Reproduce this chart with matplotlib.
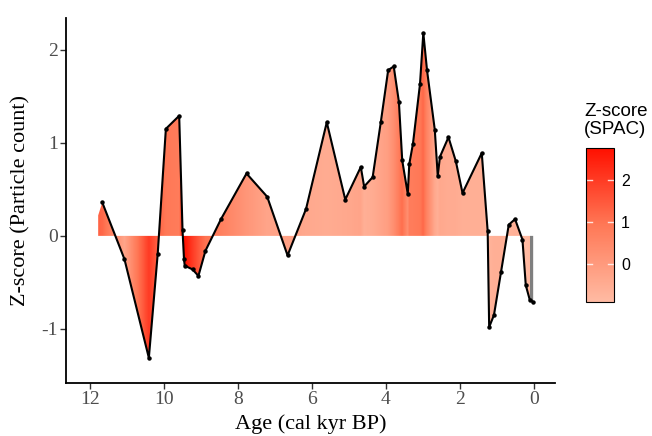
import numpy as np
import matplotlib
matplotlib.use("Agg")
import matplotlib.pyplot as plt
from matplotlib.colors import LinearSegmentedColormap, Normalize

# ---- data ----
age = [11.67, 11.07, 10.41, 10.17, 9.95, 9.59, 9.50, 9.46, 9.44, 9.23, 9.07, 8.88,
       8.46, 7.77, 7.21, 6.66, 6.16, 5.60, 5.10, 4.68, 4.59, 4.36, 4.14, 3.94,
       3.79, 3.65, 3.56, 3.41, 3.37, 3.27, 3.08, 2.99, 2.89, 2.68, 2.60, 2.54,
       2.31, 2.11, 1.93, 1.41, 1.25, 1.21, 1.08, 0.89, 0.68, 0.51, 0.31, 0.22,
       0.11, 0.02]
zscore = [0.36, -0.25, -1.31, -0.19, 1.15, 1.29, 0.065, -0.25, -0.32, -0.36, -0.43, -0.16,
          0.18, 0.67, 0.42, -0.21, 0.29, 1.22, 0.39, 0.74, 0.53, 0.63, 1.22, 1.78,
          1.82, 1.44, 0.81, 0.45, 0.77, 0.99, 1.63, 2.18, 1.78, 1.14, 0.645, 0.85,
          1.06, 0.80, 0.46, 0.89, 0.05, -0.98, -0.85, -0.39, 0.12, 0.18, -0.04, -0.53,
          -0.69, -0.71]
spac = [1.2, -0.3, 2.0, 1.3, 0.9, 0.8, 2.6, 2.76, 2.7, 2.0, 1.5, 1.0,
        0.7, 0.1, -0.3, -0.2, -0.4, -0.5, -0.4, -0.3, -0.6, -0.5, -0.3, -0.1,
        0.3, 0.8, 1.1, 0.3, 0.8, 0.8, 0.9, 1.2, 0.6, -0.4, -0.6, -0.4,
        -0.5, -0.5, -0.6, -0.6, -0.7, -0.7, -0.6, -0.6, -0.7, -0.6, -0.7, -0.92,
        -0.8, np.nan]
# start of the shaded area (before first line point)
area_start_age = 11.78
area_start_z = 0.22
area_start_spac = 1.3

xticks = [12, 10, 8, 6, 4, 2, 0]
yticks = [-1, 0, 1, 2]
cbar_ticks = [0, 1, 2]

# ---- figure ----
fig = plt.figure(figsize=(6.52, 4.36), dpi=100)
ax = fig.add_axes([66/652, 53/436, (555-66)/652, (383-18)/436])

xlim = (12.65, -0.57)
ylim = (-1.58, 2.34)

cmap = LinearSegmentedColormap.from_list("spac", ["#FFBBA3", "#FF7856", "#FF1000"])
cmap.set_bad("#7F7F7F")
norm = Normalize(vmin=-0.92, vmax=2.76)

a_age = np.array([area_start_age] + age)
a_z = np.array([area_start_z] + zscore)
a_s = np.array([area_start_spac] + spac)

# colour per fine column (interpolated along age)
order = np.argsort(a_age)
fine = np.linspace(xlim[1], xlim[0], 2000)
vals = np.interp(fine, a_age[order], a_s[order])
vals = np.where((fine < a_age.min()) | (fine > a_age.max()), np.nan, vals)
img = vals[::-1][None, :]  # left = old
im = ax.imshow(np.ma.masked_invalid(img), cmap=cmap, norm=norm, aspect="auto",
               extent=[xlim[0], xlim[1], ylim[0], ylim[1]], interpolation="nearest",
               origin="lower", zorder=1)
poly = ax.fill_between(a_age, a_z, 0, color="none", lw=0)
path = poly.get_paths()[0]
im.set_clip_path(path, transform=ax.transData)

ax.plot(age, zscore, color="black", lw=1.5, zorder=3)
ax.plot(age, zscore, "o", color="black", ms=2.2, zorder=4)

ax.set_xlim(*xlim)
ax.set_ylim(*ylim)
ax.set_xticks(xticks)
ax.set_yticks(yticks)
ax.set_xticklabels([str(t) for t in xticks])
ax.set_yticklabels([str(t) for t in yticks])

for s in ["top", "right"]:
    ax.spines[s].set_visible(False)
for s in ["left", "bottom"]:
    ax.spines[s].set_linewidth(1.3)
    ax.spines[s].set_color("black")
ax.tick_params(axis="both", length=4, width=1.0, color="#333333",
               labelcolor="#4D4D4D", labelsize=14, pad=2)
for lab in ax.get_xticklabels() + ax.get_yticklabels():
    lab.set_family("Liberation Serif")

ax.set_xlabel("Age (cal kyr BP)", fontsize=16, family="Liberation Serif", labelpad=4.5)
ax.set_ylabel("Z-score (Particle count)", fontsize=16, family="Liberation Serif", labelpad=8)

# ---- colourbar ----
cax = fig.add_axes([586/652, (436-302)/436, 28/652, 154/436])
sm = matplotlib.cm.ScalarMappable(norm=norm, cmap=cmap)
cb = fig.colorbar(sm, cax=cax, ticks=cbar_ticks)
cb.outline.set_edgecolor("black")
cb.outline.set_linewidth(0.8)
cax.tick_params(length=0, labelsize=11.5, pad=5)
for lab in cax.get_yticklabels():
    lab.set_family("Liberation Sans")
for t in cbar_ticks:
    cax.plot([0, 0.2], [t, t], color="white", lw=1, transform=cax.get_yaxis_transform(), alpha=0.8)
    cax.plot([0.8, 1.0], [t, t], color="white", lw=1, transform=cax.get_yaxis_transform(), alpha=0.8)
fig.text(584/652, 1 - 138/436, "Z-score\n(SPAC)", fontsize=13.5, family="Liberation Sans",
         ha="left", va="bottom", linespacing=1.05)

fig.savefig("out.png", dpi=100)
